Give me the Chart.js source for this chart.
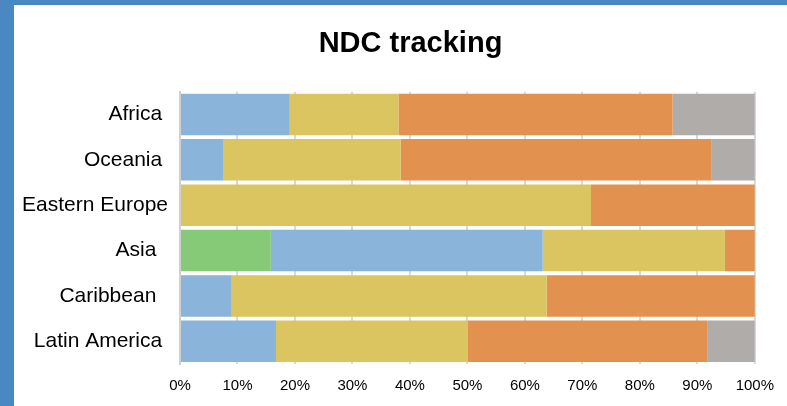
<!DOCTYPE html>
<html>
<head>
<meta charset="utf-8">
<script src="https://cdn.jsdelivr.net/npm/chart.js@4/dist/chart.umd.min.js"></script>
<style>
  html, body { margin: 0; padding: 0; width: 787px; height: 406px; overflow: hidden; background: #4a88c4; }
  #panel { position: absolute; left: 14px; top: 5px; width: 773px; height: 401px; background: #ffffff; }
  #c { display: block; }
</style>
</head>
<body>
<div id="panel"><canvas id="c" width="773" height="401"></canvas></div>
<script>
const categories = ["Africa ", "Oceania ", "Eastern Europe", "Asia  ", "Caribbean  ", "Latin America "];
const seriesNames = ["Green", "Blue", "Yellow", "Orange", "Grey"];
const greenValues  = [0,    0,    0,    15.8, 0,    0];
const blueValues   = [19.1, 7.6,  0,    47.3, 9.0,  16.7];
const yellowValues = [18.9, 30.8, 71.5, 31.7, 54.8, 33.4];
const orangeValues = [47.7, 54.0, 28.5, 5.2,  36.2, 41.6];
const greyValues   = [14.3, 7.6,  0,    0,    0,    8.3];
const xTicks = [0, 10, 20, 30, 40, 50, 60, 70, 80, 90, 100];

const colors = ["#86ca77", "#8ab4da", "#dbc560", "#e2914e", "#b0acaa"];
const allValues = [greenValues, blueValues, yellowValues, orangeValues, greyValues];

const FONT = "'Liberation Sans', Arial, sans-serif";

// shift the title box horizontally so it sits where the reference title is
const titleShift = {
  id: 'titleShift',
  afterLayout(chart) {
    const t = chart.titleBlock;
    if (t) { t.left += 23; t.right += 23; }
  }
};

new Chart(document.getElementById('c'), {
  type: 'bar',
  data: {
    labels: categories,
    datasets: allValues.map((vals, i) => ({
      label: seriesNames[i],
      data: vals,
      backgroundColor: colors[i],
      borderWidth: 0,
      barPercentage: 0.915,
      categoryPercentage: 1.0
    }))
  },
  plugins: [titleShift],
  options: {
    indexAxis: 'y',
    responsive: false,
    animation: false,
    layout: { autoPadding: false, padding: { left: 0, right: 26, top: 0, bottom: 10 } },
    plugins: {
      legend: { display: false },
      tooltip: { enabled: false },
      title: {
        display: true,
        text: 'NDC tracking',
        color: '#000000',
        font: { family: FONT, size: 29, weight: 'bold' },
        padding: { top: 22, bottom: 30 }
      }
    },
    scales: {
      x: {
        stacked: true,
        min: 0,
        max: 100,
        afterBuildTicks: (scale) => { scale.ticks = xTicks.map(v => ({ value: v })); },
        afterFit: (scale) => { scale.height = 32; },
        ticks: {
          color: '#000000',
          font: { family: FONT, size: 15 },
          padding: 13,
          maxRotation: 0,
          callback: (v) => v + '%'
        },
        grid: { color: '#d9d9d9', lineWidth: 2, drawTicks: false },
        border: { display: false }
      },
      y: {
        stacked: true,
        afterFit: (scale) => { scale.width = 166; },
        ticks: {
          color: '#000000',
          font: { family: FONT, size: 21 },
          padding: 12
        },
        grid: { color: 'rgba(0,0,0,0)', drawTicks: false },
        border: { display: true, color: '#d0d0d0', width: 2 }
      }
    }
  }
});
</script>
</body>
</html>
